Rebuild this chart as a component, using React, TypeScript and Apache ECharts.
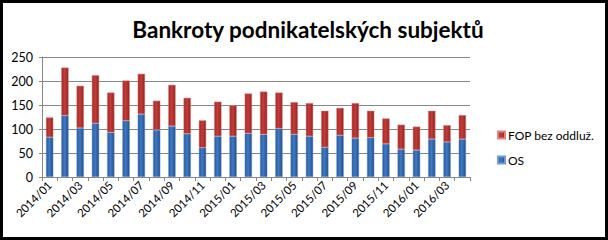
import React, { useEffect, useRef } from "react";
import * as echarts from "echarts";

const categories = [
  "2014/01", "2014/02", "2014/03", "2014/04", "2014/05", "2014/06", "2014/07",
  "2014/08", "2014/09", "2014/10", "2014/11", "2014/12", "2015/01", "2015/02",
  "2015/03", "2015/04", "2015/05", "2015/06", "2015/07", "2015/08", "2015/09",
  "2015/10", "2015/11", "2015/12", "2016/01", "2016/02", "2016/03", "2016/04",
];
const osValues = [83, 128, 102, 112, 93, 117, 131, 98, 106, 90, 61, 85, 85, 91, 89, 101, 89, 85, 62, 87, 81, 82, 69, 58, 56, 79, 73, 79];
const fopValues = [41, 100, 88, 100, 83, 84, 84, 61, 86, 75, 57, 72, 64, 83, 89, 75, 67, 69, 76, 57, 73, 56, 53, 51, 49, 59, 35, 50];
const yTicks = [0, 50, 100, 150, 200, 250];

const FONT = "Lato, 'Noto Sans', sans-serif";

function grad(c1: string, c2: string, c3: string) {
  return new echarts.graphic.LinearGradient(0, 0, 1, 0, [
    { offset: 0, color: c1 },
    { offset: 0.45, color: c2 },
    { offset: 1, color: c3 },
  ]);
}

export default function App() {
  const ref = useRef<HTMLDivElement>(null);
  useEffect(() => {
    if (!ref.current) return;
    const chart = echarts.init(ref.current, undefined, { renderer: "svg" });
    chart.setOption({
      animation: false,
      backgroundColor: "#ffffff",
      title: {
        text: "Bankroty podnikatelských subjektů",
        left: 303,
        top: 13,
        textAlign: "center",
        textStyle: { fontFamily: FONT, fontWeight: "bold", fontSize: 22.5, color: "#000" },
      },
      legend: {
        orient: "vertical",
        left: 492,
        top: 124,
        itemWidth: 7,
        itemHeight: 7,
        itemGap: 13,
        icon: "rect",
        data: ["FOP bez oddluž.", "OS"],
        textStyle: { fontFamily: FONT, fontSize: 12, color: "#000", padding: [0, 0, 0, -2] },
      },
      grid: { left: 42, right: 138, top: 57, bottom: 63 },
      xAxis: {
        type: "category",
        data: categories,
        axisLine: { lineStyle: { color: "#868686", width: 1 } },
        axisTick: { show: true, alignWithLabel: false, interval: 0, length: 4, lineStyle: { color: "#868686" } },
        axisLabel: {
          interval: 1,
          rotate: 45,
          fontFamily: FONT,
          fontSize: 11.5,
          color: "#000",
          margin: 6,
        },
      },
      yAxis: {
        type: "value",
        min: 0,
        max: 250,
        interval: 50,
        axisLine: { show: true, lineStyle: { color: "#868686", width: 1 } },
        axisTick: { show: true, length: 3, lineStyle: { color: "#868686" } },
        splitLine: { lineStyle: { color: "#868686", width: 1 } },
        axisLabel: {
          fontFamily: FONT,
          fontSize: 12.5,
          color: "#000",
          margin: 9,
          formatter: (v: number) => (yTicks.includes(v) ? String(v) : ""),
        },
      },
      series: [
        {
          name: "OS",
          type: "bar",
          stack: "total",
          barWidth: "48%",
          data: osValues,
          itemStyle: {
            color: grad("#2a5794", "#3f7ac8", "#244d86"),
            borderColor: "#6f9bd6",
            borderWidth: 0.5,
          },
        },
        {
          name: "FOP bez oddluž.",
          type: "bar",
          stack: "total",
          barWidth: "48%",
          data: fopValues,
          itemStyle: {
            color: grad("#9e2926", "#c43c38", "#912522"),
            borderColor: "#de8583",
            borderWidth: 0.5,
          },
        },
      ],
      graphic: [
        {
          type: "rect",
          shape: { x: 1.5, y: 1.5, width: 605, height: 237 },
          style: { fill: "none", stroke: "#000", lineWidth: 3 },
          z: 100,
        },
      ],
    });
    return () => chart.dispose();
  }, []);
  return (
    <div
      ref={ref}
      style={{ position: "fixed", left: 0, top: 0, width: 608, height: 240 }}
    />
  );
}
